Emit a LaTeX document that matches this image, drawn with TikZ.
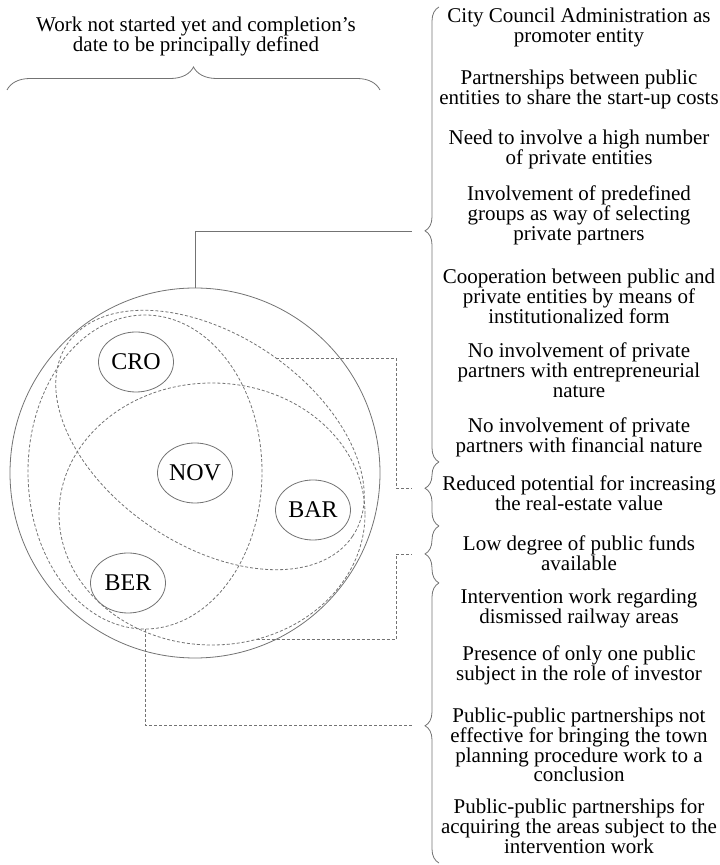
\documentclass[tikz,border=0pt]{standalone}
\usepackage{fontspec}
\setmainfont{Liberation Serif}
\usetikzlibrary{decorations.pathreplacing,shapes.geometric,calc}
\begin{document}
\begin{tikzpicture}[x=1pt,y=1pt,
  ln/.style={draw=black!55, line width=0.8pt},
  dsh/.style={ln, dash pattern=on 3pt off 2pt},
  txt/.style={font=\fontsize{21}{19.8}\selectfont, align=center, inner sep=0pt, anchor=north},
  lab/.style={ln, ellipse, minimum width=75pt, minimum height=60pt, inner sep=0pt, font=\fontsize{24}{24}\selectfont},
  brc/.style={ln, decorate, decoration={brace, amplitude=14pt, aspect=#1}},
  topbrc/.style={ln, decorate, decoration={brace, amplitude=23pt, aspect=0.5}},
]
\useasboundingbox (0,0) rectangle (720,865);

% title
\node[txt] (title) at (196,848.3) {Work not started yet and completion’s\\date to be principally defined};
\draw[topbrc] (7,775) -- (380,775);

% right column texts
\node[txt] (t1) at (579,857.3) {City Council Administration as\\promoter entity};
\node[txt] (t2) at (579,795.3) {Partnerships between public\\entities to share the start-up costs};
\node[txt] (t3) at (579,735.3) {Need to involve a high number\\of private entities};
\node[txt] (t4) at (579,679.3) {Involvement of predefined\\groups as way of selecting\\private partners};
\node[txt] (t5) at (579,596.3) {Cooperation between public and\\private entities by means of\\institutionalized form};
\node[txt] (t6) at (579,522.3) {No involvement of private\\partners with entrepreneurial\\nature};
\node[txt] (t7) at (579,447.3) {No involvement of private\\partners with financial nature};
\node[txt] (t8) at (579,389.3) {Reduced potential for increasing\\the real-estate value};
\node[txt] (t9) at (579,329.3) {Low degree of public funds\\available};
\node[txt] (t10) at (579,276.3) {Intervention work regarding\\dismissed railway areas};
\node[txt] (t11) at (579,219.3) {Presence of only one public\\subject in the role of investor};
\node[txt] (t12) at (579,157.3) {Public-public partnerships not\\effective for bringing the town\\planning procedure work to a\\conclusion};
\node[txt] (t13) at (579,66.3) {Public-public partnerships for\\acquiring the areas subject to the\\intervention work};

% right braces
\draw[brc=0.508] (439,403) -- (439,858);
\draw[brc=0.59] (439,339) -- (439,403);
\draw[brc=0.51] (439,282) -- (439,339);
\draw[brc=0.49] (439,2) -- (439,282);

% brace tip line ends
\coordinate (b1end) at (412,634);
\coordinate (b2v) at (396,377);
\coordinate (b2end) at (412,377);
\coordinate (b3v) at (396,311);
\coordinate (b3end) at (412,311);
\coordinate (b4end) at (412,140);

% big circle
\node[ln, circle, minimum size=370pt, inner sep=0pt] (circ) at (195,392) {};

% dashed ellipses
\begin{scope}[shift={(210,425)}, rotate=-34]
  \draw[dsh] (0,0) ellipse (172pt and 105pt);
  \coordinate (e1p) at (87:172pt and 105pt);
\end{scope}
\begin{scope}[shift={(145,393)}]
  \draw[dsh] (0,0) ellipse (117pt and 157pt);
  \coordinate (e2p) at (-90:117pt and 157pt);
\end{scope}
\begin{scope}[shift={(212,351)}]
  \draw[dsh] (0,0) ellipse (153pt and 131pt);
  \coordinate (e3p) at (-73:153pt and 131pt);
\end{scope}

% labelled ellipses
\node[lab] (cro) at (136,503) {CRO};
\node[lab] (nov) at (195,392) {NOV};
\node[lab] (bar) at (313,355) {BAR};
\node[lab] (ber) at (128,282) {BER};

% connectors
\draw[ln] (circ.north) |- (b1end);
\draw[dsh] (e1p) -| (b2v) -- (b2end);
\draw[dsh] (e3p) -| (b3v) -- (b3end);
\draw[dsh] (e2p) |- (b4end);
\end{tikzpicture}
\end{document}
